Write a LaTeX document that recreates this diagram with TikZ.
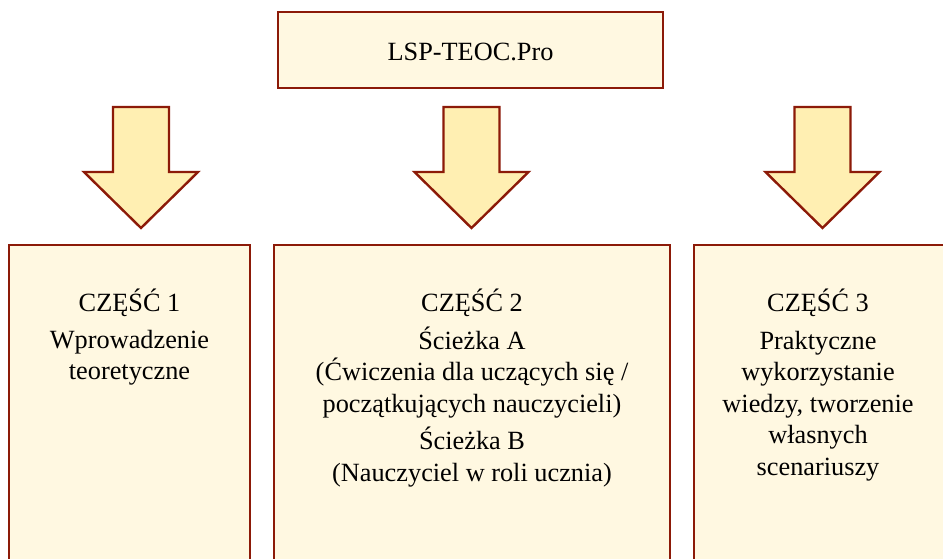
\documentclass[tikz,border=0pt]{standalone}
\usepackage{fontspec}
\setmainfont{Liberation Serif}
\definecolor{edge}{RGB}{140,26,8}
\definecolor{boxfill}{RGB}{255,248,225}
\definecolor{arrowfill}{RGB}{255,239,178}
\tikzset{
  frame/.style={draw=edge, fill=boxfill, line width=2pt, minimum height=330pt, anchor=north, inner sep=0pt},
  topframe/.style={draw=edge, fill=boxfill, line width=2.8pt, inner sep=0pt},
  label/.style={align=center, anchor=north, inner sep=0pt, font=\fontsize{26.3}{31.5}\selectfont},
  blockarrow/.pic={
    \path[draw=edge, fill=arrowfill, line width=2.4pt, line join=miter]
      (-28,0) -- (28,0) -- (28,65) -- (57,65) -- (0,121) -- (-57,65) -- (-28,65) -- cycle;
  }
}
\begin{document}
\begin{tikzpicture}[x=1pt, y=-1pt]
\clip (0,0) rectangle (943,558);
\fill[white] (0,0) rectangle (943,558);
% top box
\node[topframe, minimum width=385pt, minimum height=76pt] (top) at (470.5,50) {};
\node[font=\fontsize{26.3}{30}\selectfont] (toptext) at (470.5,52) {LSP-TEOC.Pro};
% arrows
\pic (a1) at (141,107) {blockarrow};
\pic (a2) at (471.5,107) {blockarrow};
\pic (a3) at (822.5,107) {blockarrow};
% lower boxes
\node[frame, minimum width=241pt] (b1) at (129.5,244) {};
\node[frame, minimum width=396pt] (b2) at (472,244) {};
\node[frame, minimum width=260pt] (b3) at (824,244) {};
% texts
\node[label] (t1) at (129.5,289) {CZĘŚĆ 1\\[5pt] Wprowadzenie\\ teoretyczne};
\node[label] (t2) at (472,289) {CZĘŚĆ 2\\[6pt] Ścieżka A\\ (Ćwiczenia dla uczących się /\\ początkujących nauczycieli)\\[6pt] Ścieżka B\\ (Nauczyciel w roli ucznia)};
\node[label] (t3) at (818,289) {CZĘŚĆ 3\\[6pt] Praktyczne\\ wykorzystanie\\ wiedzy, tworzenie\\ własnych\\ scenariuszy};
\end{tikzpicture}
\end{document}
